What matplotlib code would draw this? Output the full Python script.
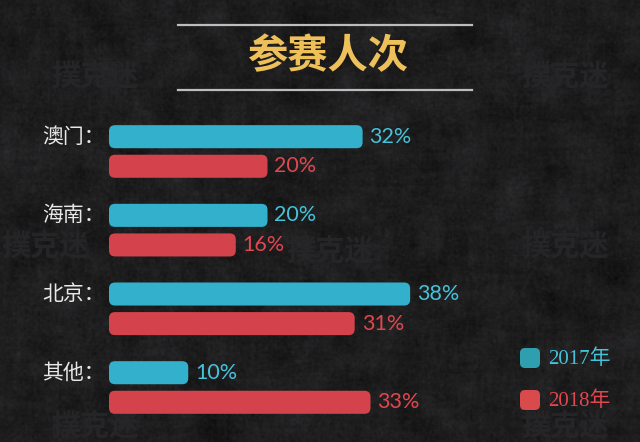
import numpy as np
import matplotlib
matplotlib.use("Agg")
import matplotlib.pyplot as plt
from matplotlib.patches import FancyBboxPatch

plt.rcParams['font.family'] = ['Noto Sans CJK SC', 'DejaVu Sans']

title = "参赛人次"
categories = ["澳门：", "海南：", "北京：", "其他："]
series_names = ["2017年", "2018年"]
values_2017 = [32, 20, 38, 10]
values_2018 = [20, 16, 31, 33]
value_labels_2017 = ["32%", "20%", "38%", "10%"]
value_labels_2018 = ["20%", "16%", "31%", "33%"]

TEAL = "#33b1cc"
RED = "#d4434b"
TEAL_TXT = "#45c3da"
RED_TXT = "#e0474f"

W, H = 640, 442
fig = plt.figure(figsize=(W / 100, H / 100), dpi=100)

# textured dark background
bg = fig.add_axes([0, 0, 1, 1])
rng = np.random.default_rng(3)
n = rng.normal(0, 1, (H, W))
k = np.ones(3) / 3
sm = np.apply_along_axis(lambda r: np.convolve(r, k, mode='same'), 1, n)
sm = np.apply_along_axis(lambda c: np.convolve(c, k, mode='same'), 0, sm)
coarse = rng.normal(0, 1, (H, W))
k2 = np.ones(25) / 25
coarse = np.apply_along_axis(lambda r: np.convolve(r, k2, mode='same'), 1, coarse)
coarse = np.apply_along_axis(lambda c: np.convolve(c, k2, mode='same'), 0, coarse)
coarse = coarse / coarse.std()
base = 0.115 + 0.024 * sm + 0.012 * coarse
img = np.dstack([base, base, base * 1.04])
bg.imshow(np.clip(img, 0, 1), aspect='auto', extent=[0, W, H, 0])
bg.set_xlim(0, W)
bg.set_ylim(H, 0)
bg.axis('off')

# faint watermarks
for (wx, wy) in [(95, 75), (565, 75), (45, 245), (565, 245), (330, 250), (565, 425), (95, 425)]:
    bg.text(wx, wy, "撲克迷", color="#252528", fontsize=21, fontweight='bold',
            ha='center', va='center', zorder=1)

# title and rules
bg.plot([178, 472], [25, 25], color="#bdbdbd", lw=1.6, zorder=2)
bg.plot([178, 472], [90, 90], color="#bdbdbd", lw=1.6, zorder=2)
bg.text(328, 57, title, color="#eec05a", fontsize=29, fontweight='bold',
        ha='center', va='center', zorder=3)

# chart axes
ax_left = 109 / W
ax_w = (W - 109) / W
y_top_px, y_bot_px = 96.4, 434.7
ax = fig.add_axes([ax_left, 1 - y_bot_px / H, ax_w, (y_bot_px - y_top_px) / H])
ax.patch.set_alpha(0)
xmax = (W - 109) / 7.925
ax.set_xlim(0, xmax)
ax.set_ylim(3.6, -0.7)
ax.axis('off')

pos = np.arange(len(categories))
off = 0.188
bh = 0.293
b1 = ax.barh(pos - off, values_2017, height=bh, color=TEAL)
b2 = ax.barh(pos + off, values_2018, height=bh, color=RED)

px_x = 7.925
px_y = (y_bot_px - y_top_px) / 4.3
r_units = 6 / px_x
aspect = (1 / px_y) / (1 / px_x)
for bars, col in [(b1, TEAL), (b2, RED)]:
    for b in bars:
        x0, y0, w, h = b.get_x(), b.get_y(), b.get_width(), b.get_height()
        b.set_visible(False)
        p = FancyBboxPatch((x0, y0), w, h,
                           boxstyle=f"round,pad=0,rounding_size={r_units}",
                           mutation_aspect=aspect, fc=col, ec='none', zorder=3)
        ax.add_patch(p)

for i in range(len(categories)):
    ax.annotate(value_labels_2017[i], (values_2017[i], pos[i] - off),
                xytext=(5, 0), textcoords='offset points', va='center', ha='left',
                color=TEAL_TXT, fontsize=15.5, family=['Lato', 'DejaVu Sans'])
    ax.annotate(value_labels_2018[i], (values_2018[i], pos[i] + off),
                xytext=(5, 0), textcoords='offset points', va='center', ha='left',
                color=RED_TXT, fontsize=15.5, family=['Lato', 'DejaVu Sans'])
    ax.annotate(categories[i], (0, pos[i] - off), xytext=(-3, 0),
                textcoords='offset points', va='center', ha='right',
                color="#e8e8e8", fontsize=15, annotation_clip=False)

# legend (manual, rounded squares)
for (ly, col, tcol, lab) in [(358, "#2f9fb0", TEAL_TXT, series_names[0]),
                              (400, "#d94a4d", RED_TXT, series_names[1])]:
    sq = FancyBboxPatch((520, ly - 10), 20, 20,
                        boxstyle="round,pad=0,rounding_size=5",
                        fc=col, ec='none', zorder=3)
    bg.add_patch(sq)
    bg.text(548, ly + 1, lab, color=tcol, fontsize=15, ha='left', va='center',
            family=['Liberation Serif', 'Noto Sans CJK SC'], zorder=3)

fig.savefig("out.png", dpi=100)
